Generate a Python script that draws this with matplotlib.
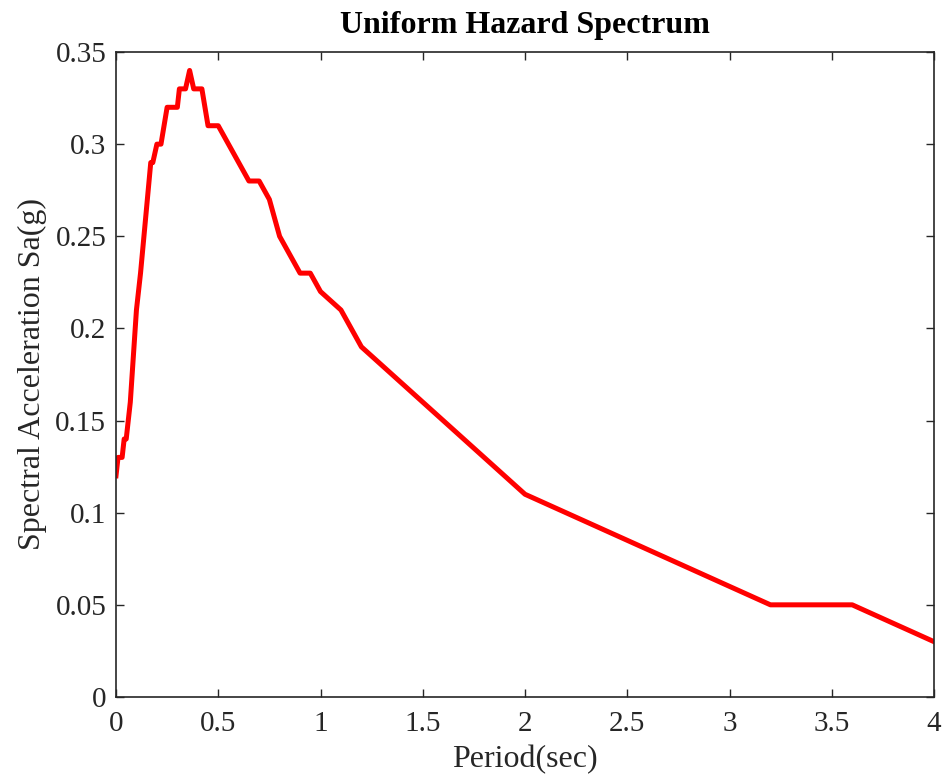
import numpy as np
import matplotlib
matplotlib.use("Agg")
import matplotlib.pyplot as plt

plt.rcParams['font.family'] = ['Liberation Serif', 'DejaVu Serif']

# period (sec) and spectral acceleration (g)
period = [0.0, 0.01, 0.03, 0.04, 0.05, 0.07, 0.10, 0.12, 0.17, 0.18, 0.20, 0.22,
          0.25, 0.30, 0.31, 0.34, 0.36, 0.38, 0.42, 0.45, 0.50, 0.65, 0.70,
          0.75, 0.80, 0.90, 0.95, 1.0, 1.1, 1.2, 2.0, 3.2, 3.6, 4.0]
sa = [0.12, 0.13, 0.13, 0.14, 0.14, 0.16, 0.21, 0.23, 0.29, 0.29, 0.30, 0.30,
      0.32, 0.32, 0.33, 0.33, 0.34, 0.33, 0.33, 0.31, 0.31, 0.28, 0.28,
      0.27, 0.25, 0.23, 0.23, 0.22, 0.21, 0.19, 0.11, 0.05, 0.05, 0.03]

xticks = [0, 0.5, 1, 1.5, 2, 2.5, 3, 3.5, 4]
xticklabels = ['0', '0.5', '1', '1.5', '2', '2.5', '3', '3.5', '4']
yticks = [0, 0.05, 0.1, 0.15, 0.2, 0.25, 0.3, 0.35]
yticklabels = ['0', '0.05', '0.1', '0.15', '0.2', '0.25', '0.3', '0.35']

fig = plt.figure(figsize=(9.43, 7.81), dpi=100)
ax = fig.add_axes([0.123, 0.1076, 0.8675, 0.8258])

ax.plot(period, sa, color='red', linewidth=3.6)

ax.set_xlim(0, 4)
ax.set_ylim(0, 0.35)
ax.set_xticks(xticks)
ax.set_xticklabels(xticklabels)
ax.set_yticks(yticks)
ax.set_yticklabels(yticklabels)
ax.tick_params(direction='in', top=True, right=True, labelsize=21,
               length=6, width=1, colors='#262626', pad=7)
ax.tick_params(axis='x', pad=10)
for s in ax.spines.values():
    s.set_linewidth(1.2)
    s.set_color('#262626')

ax.set_xlabel("Period(sec)", fontsize=23, color='#262626', labelpad=6)
ax.set_ylabel("Spectral Acceleration Sa(g)", fontsize=23, color='#262626', labelpad=6)
ax.set_title("Uniform Hazard Spectrum", fontsize=23, fontweight='bold', pad=14)

fig.savefig("out.png", dpi=100)
